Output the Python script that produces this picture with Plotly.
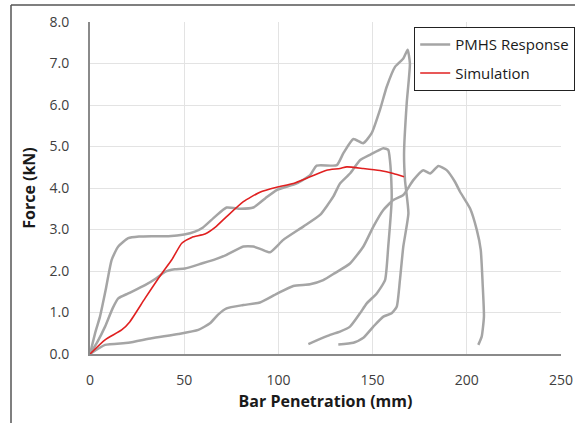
import plotly.graph_objects as go

# PMHS specimen curves (Bar penetration mm, Force kN)
pmhs1_x = [0, 3, 5.3, 8.3, 11.5, 15, 20.3, 26, 32.7, 41.6, 50, 55.7, 60, 66.4, 72.5, 80, 86.7, 93, 99.1,
           109.7, 116.8, 120.3, 131, 134.5, 139.8, 145, 149.5, 153.9, 157.5, 161.9, 166.3, 168.6, 169.8,
           168.1, 166.7, 167.2, 169, 166.3, 164.5, 162.8, 160.1, 155.7, 150.4, 145.1, 139.8, 131.8]
pmhs1_y = [0, 0.55, 0.9, 1.54, 2.27, 2.59, 2.79, 2.83, 2.84, 2.84, 2.88, 2.95, 3.05, 3.31, 3.53, 3.5, 3.53, 3.75, 3.95,
           4.11, 4.31, 4.54, 4.55, 4.84, 5.18, 5.08, 5.32, 5.88, 6.44, 6.92, 7.12, 7.33, 7.0,
           6.04, 4.84, 4.19, 3.39, 2.59, 1.78, 1.14, 0.98, 0.9, 0.66, 0.39, 0.27, 0.23]

pmhs2_x = [0, 4, 8, 12, 15, 20.3, 29.2, 35, 39.8, 45, 50.4, 59.3, 66.4, 72.5, 81.4, 86.7, 91, 95.5,
           102.6, 113.2, 122.1, 129.1, 132.7, 138, 143.3, 148.6, 155.7, 158.3, 159.2, 160.1, 160.1,
           158.3, 156.6, 152.2, 146.9, 143.3, 138, 132.7, 127.4, 115.9]
pmhs2_y = [0, 0.3, 0.66, 1.1, 1.34, 1.46, 1.66, 1.82, 1.98, 2.04, 2.06, 2.18, 2.28, 2.39, 2.59, 2.59, 2.52, 2.45,
           2.75, 3.07, 3.35, 3.79, 4.11, 4.35, 4.67, 4.8, 4.96, 4.92, 4.67, 3.95, 3.7,
           2.59, 1.78, 1.46, 1.22, 0.98, 0.66, 0.54, 0.46, 0.24]

pmhs3_x = [0, 8, 20.3, 32.7, 46.9, 57.5, 63.7, 68, 72.5, 81.4, 90.2, 99.1, 107.9, 116.8, 123.8, 130,
           138, 145.1, 150.4, 155.7, 161, 166.3, 171.6, 176.9, 180.5, 184.9, 189.3, 193.7, 196.4,
           201.7, 205.3, 207.4, 208.4, 209.1, 207.9, 206.1]
pmhs3_y = [0, 0.22, 0.27, 0.38, 0.48, 0.58, 0.74, 0.95, 1.1, 1.18, 1.24, 1.45, 1.64, 1.68, 1.78, 1.95,
           2.18, 2.59, 3.07, 3.47, 3.71, 3.83, 4.19, 4.43, 4.35, 4.53, 4.43, 4.15, 3.91,
           3.51, 2.99, 2.51, 1.7, 0.9, 0.42, 0.22]

sim_x = [0, 8, 16.8, 21.2, 29.2, 38.1, 43.4, 48.7, 54, 61, 66.4, 72.5, 81.4, 90.2, 99.1, 107.9,
         116.8, 125.6, 132.7, 136.3, 145, 153.9, 161, 166.7]
sim_y = [0, 0.34, 0.58, 0.78, 1.34, 1.94, 2.27, 2.67, 2.81, 2.89, 3.05, 3.31, 3.67, 3.9, 4.02, 4.11,
         4.27, 4.43, 4.47, 4.51, 4.47, 4.42, 4.35, 4.27]

x_ticks = [0, 50, 100, 150, 200, 250]
y_ticks = [0, 1, 2, 3, 4, 5, 6, 7, 8]
y_tick_labels = ["0.0", "1.0", "2.0", "3.0", "4.0", "5.0", "6.0", "7.0", "8.0"]

GRAY = "#a5a5a5"
RED = "#e02020"

fig = go.Figure()
for i, (xs, ys) in enumerate([(pmhs1_x, pmhs1_y), (pmhs2_x, pmhs2_y), (pmhs3_x, pmhs3_y)]):
    fig.add_trace(go.Scatter(x=xs, y=ys, mode="lines", name="PMHS Response",
                             legendgroup="pmhs", showlegend=(i == 0),
                             line=dict(color=GRAY, width=2.5, shape="spline", smoothing=0.5)))
fig.add_trace(go.Scatter(x=sim_x, y=sim_y, mode="lines", name="Simulation", legendgroup="sim",
                         line=dict(color=RED, width=1.6, shape="spline", smoothing=0.5)))

W, H = 576, 423
L, R, T, B = 90, 15, 22, 69
pw, ph = W - L - R, H - T - B

def px2paper_x(px):
    return (px - L) / pw

def py2paper_y(py):
    return (H - B - py) / ph

# outer frame (left and top edges visible)
fig.add_shape(type="line", xref="paper", yref="paper",
              x0=px2paper_x(11), x1=px2paper_x(11), y0=py2paper_y(423), y1=py2paper_y(5),
              line=dict(color="#555555", width=1.5))
fig.add_shape(type="line", xref="paper", yref="paper",
              x0=px2paper_x(11), x1=px2paper_x(575), y0=py2paper_y(5), y1=py2paper_y(5),
              line=dict(color="#555555", width=1.5))

font_fam = "Open Sans, Lato, sans-serif"
fig.update_layout(
    width=W, height=H,
    margin=dict(l=L, r=R, t=T, b=B, autoexpand=False),
    paper_bgcolor="white", plot_bgcolor="white",
    font=dict(family=font_fam, color="#404040", size=14),
    xaxis=dict(range=[0, 250], tickvals=x_ticks, showgrid=True, gridcolor="#e3e3e3", gridwidth=1,
               showline=True, linecolor="#8a8a8a", linewidth=2, zeroline=False,
               ticks="", ticklabelstandoff=12, automargin=False,
               title=dict(text="<b>Bar Penetration (mm)</b>", font=dict(size=16, color="#1a1a1a"), standoff=8)),
    yaxis=dict(range=[0, 8], tickvals=y_ticks, ticktext=y_tick_labels, showgrid=True, gridcolor="#e3e3e3",
               gridwidth=1, showline=True, linecolor="#8a8a8a", linewidth=2, zeroline=False,
               ticks="", ticklabelstandoff=16, automargin=False,
               title=dict(text="<b>Force (kN)</b>", font=dict(size=16, color="#1a1a1a"), standoff=10)),
    legend=dict(x=px2paper_x(414), y=py2paper_y(27), xanchor="left", yanchor="top",
                bgcolor="white", bordercolor="#222222", borderwidth=1.2,
                font=dict(size=15, color="#1a1a1a"), itemwidth=30, tracegroupgap=6,
                traceorder="grouped"),
    showlegend=True,
)

fig.write_html("out.html", config={"displayModeBar": False},
               post_script="document.body.style.margin='0';")
